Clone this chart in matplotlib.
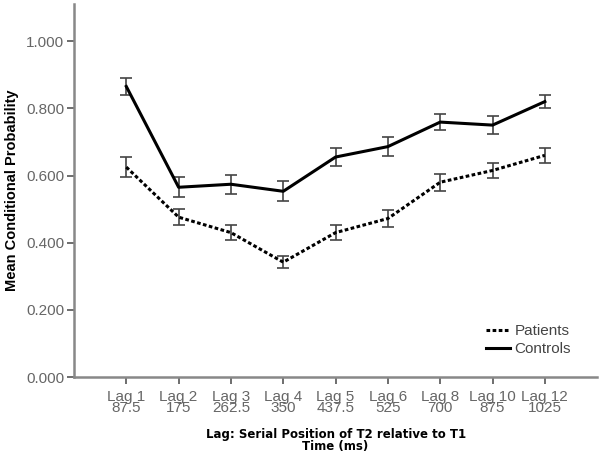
import matplotlib.pyplot as plt
from matplotlib.lines import Line2D

lags = ["Lag 1", "Lag 2", "Lag 3", "Lag 4", "Lag 5", "Lag 6", "Lag 8", "Lag 10", "Lag 12"]
times = ["87.5", "175", "262.5", "350", "437.5", "525", "700", "875", "1025"]

controls = [0.865, 0.565, 0.574, 0.553, 0.655, 0.686, 0.759, 0.750, 0.820]
controls_err = [0.026, 0.030, 0.028, 0.030, 0.028, 0.028, 0.024, 0.027, 0.019]

patients = [0.625, 0.476, 0.430, 0.342, 0.430, 0.472, 0.580, 0.615, 0.660]
patients_err = [0.030, 0.024, 0.022, 0.018, 0.022, 0.026, 0.025, 0.023, 0.023]

plt.rcParams["font.family"] = ["Liberation Sans", "DejaVu Sans"]

fig = plt.figure(figsize=(6, 4.61), dpi=100)
ax = fig.add_axes([0.1233, 0.182, 0.872, 0.809])

x = list(range(len(lags)))
patients_ls = (0, (1.2, 0.8))
ax.errorbar(x, patients, yerr=patients_err, color="black", ls=patients_ls,
            lw=2.2, ecolor="#444444", elinewidth=1.2, capsize=4, capthick=1.2)
ax.errorbar(x, controls, yerr=controls_err, color="black", ls="-", lw=2.2,
            ecolor="#444444", elinewidth=1.2, capsize=4, capthick=1.2)

ax.set_xlim(-1, 9)
ax.set_ylim(0, 1.11)
ax.set_yticks([0, 0.2, 0.4, 0.6, 0.8, 1.0])
ax.set_yticklabels([f"{v:.3f}" for v in [0, 0.2, 0.4, 0.6, 0.8, 1.0]])
ax.set_xticks(x)
ax.set_xticklabels([f"{a}\n{b}" for a, b in zip(lags, times)], linespacing=0.8)

for side in ["top", "right"]:
    ax.spines[side].set_visible(False)
for side in ["left", "bottom"]:
    ax.spines[side].set_color("#888888")
    ax.spines[side].set_linewidth(1.8)
ax.tick_params(axis="both", colors="#555555", labelsize=11, length=5, width=1.2,
               labelcolor="#666666")
ax.tick_params(axis="x", pad=4)
ax.tick_params(axis="y", pad=2)

ax.set_ylabel("Mean Conditional Probability", fontsize=10.5, fontweight="bold",
              labelpad=5)
ax.set_xlabel("Lag: Serial Position of T2 relative to T1\nTime (ms)",
              fontsize=8.5, fontweight="bold", family=["DejaVu Sans"],
              linespacing=0.95, labelpad=9)

handles = [Line2D([], [], color="black", ls=patients_ls, lw=2.2),
           Line2D([], [], color="black", ls="-", lw=2.2)]
leg = ax.legend(handles, ["Patients", "Controls"], loc="lower right",
                bbox_to_anchor=(0.962, 0.04), frameon=False, fontsize=11,
                handlelength=1.6, handletextpad=0.3, labelspacing=0.25,
                borderaxespad=0)
for t in leg.get_texts():
    t.set_color("#444444")

fig.savefig("out.png", dpi=100)
